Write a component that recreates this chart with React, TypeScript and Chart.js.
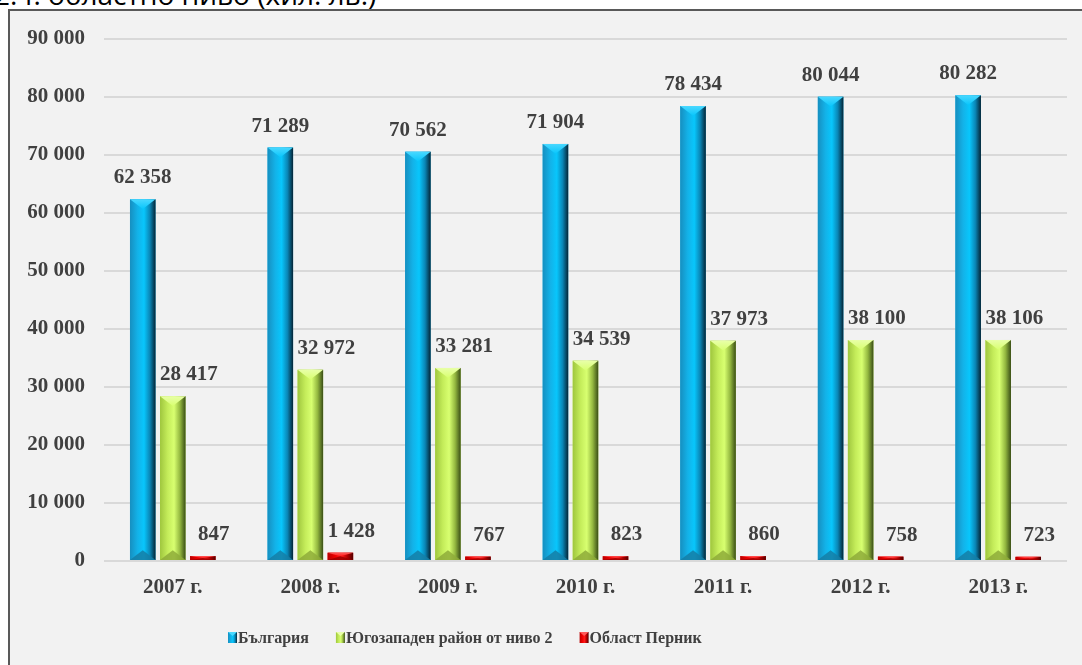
import React, { useEffect, useRef } from "react";
import { Chart, registerables } from "chart.js";

Chart.register(...registerables);

const categories = ["2007 г.", "2008 г.", "2009 г.", "2010 г.", "2011 г.", "2012 г.", "2013 г."];
const bulgaria = [62358, 71289, 70562, 71904, 78434, 80044, 80282];
const southwest = [28417, 32972, 33281, 34539, 37973, 38100, 38106];
const pernik = [847, 1428, 767, 823, 860, 758, 723];
const seriesNames = ["България", "Югозападен район от ниво 2", "Област Перник"];
const yMax = 90000;
const yStep = 10000;
const titleText = "2.4. областно ниво (хил. лв.)";

const FONT = "'Liberation Serif', 'Times New Roman', serif";
const TEXT = "#404040";

type Palette = { base: string; stops: [number, string][]; top: string; bottom: string };
const palettes: Palette[] = [
  {
    base: "#0fb0e6",
    stops: [[0, "#168fc0"], [0.3, "#13b2e8"], [0.55, "#08c6fc"], [0.78, "#0a86b6"], [1, "#052536"]],
    top: "#4ad8ff",
    bottom: "#157ea6",
  },
  {
    base: "#c2ee5c",
    stops: [[0, "#9fc63e"], [0.3, "#c4ec5a"], [0.55, "#d8ff70"], [0.78, "#94b840"], [1, "#3a4e16"]],
    top: "#e8ffa8",
    bottom: "#8eab3a",
  },
  {
    base: "#ee0000",
    stops: [[0, "#b80000"], [0.3, "#ee0000"], [0.55, "#ff1a1a"], [0.78, "#b00000"], [1, "#550000"]],
    top: "#ff5a5a",
    bottom: "#9a0000",
  },
];

const fmt = (n: number) => n.toString().replace(/\B(?=(\d{3})+(?!\d))/g, " ");

const bevelPlugin = {
  id: "bevel",
  afterDatasetsDraw(chart: any) {
    const ctx = chart.ctx as CanvasRenderingContext2D;
    chart.data.datasets.forEach((ds: any, di: number) => {
      const meta = chart.getDatasetMeta(di);
      const pal = palettes[di];
      meta.data.forEach((el: any) => {
        const { x, y, base, width } = el.getProps(["x", "y", "base", "width"], true);
        const left = x - width / 2;
        const right = x + width / 2;
        const h = base - y;
        if (h <= 0) return;
        ctx.save();
        const g = ctx.createLinearGradient(left, 0, right, 0);
        pal.stops.forEach(([o, c]) => g.addColorStop(o, c));
        ctx.fillStyle = g;
        ctx.fillRect(left, y, width, h);
        const d = Math.min(width * 0.38, h / 2);
        const tg = ctx.createLinearGradient(0, y, 0, y + d);
        tg.addColorStop(0, pal.top);
        tg.addColorStop(1, pal.stops[2][1]);
        ctx.fillStyle = tg;
        ctx.beginPath();
        ctx.moveTo(left, y);
        ctx.lineTo(right, y);
        ctx.lineTo(x, y + d);
        ctx.closePath();
        ctx.fill();
        ctx.fillStyle = pal.bottom;
        ctx.globalAlpha = 0.85;
        ctx.beginPath();
        ctx.moveTo(left, base);
        ctx.lineTo(right, base);
        ctx.lineTo(x, base - d);
        ctx.closePath();
        ctx.fill();
        ctx.restore();
      });
    });
  },
};

const labelPlugin = {
  id: "valueLabels",
  afterDatasetsDraw(chart: any) {
    const ctx = chart.ctx as CanvasRenderingContext2D;
    ctx.save();
    ctx.font = `bold 21px ${FONT}`;
    ctx.fillStyle = TEXT;
    ctx.textBaseline = "alphabetic";
    chart.data.datasets.forEach((ds: any, di: number) => {
      const meta = chart.getDatasetMeta(di);
      meta.data.forEach((el: any, i: number) => {
        const { x, y, width } = el.getProps(["x", "y", "width"], true);
        const txt = fmt(ds.data[i]);
        const ty = y - 16;
        if (di === 0) {
          ctx.textAlign = "center";
          ctx.fillText(txt, x, ty);
        } else if (di === 1) {
          ctx.textAlign = "left";
          ctx.fillText(txt, x - width / 2, ty);
        } else {
          ctx.textAlign = "center";
          ctx.fillText(txt, x + 11, ty);
        }
      });
    });
    ctx.restore();
  },
};

const legendPlugin = {
  id: "customLegend",
  afterDraw(chart: any) {
    const ctx = chart.ctx as CanvasRenderingContext2D;
    ctx.save();
    ctx.font = `bold 16px ${FONT}`;
    ctx.textBaseline = "alphabetic";
    ctx.textAlign = "left";
    let cx = 228;
    const baseline = 643;
    seriesNames.forEach((name, i) => {
      const pal = palettes[i];
      const bw = 9;
      const bh = 11;
      const by = baseline - bh;
      const g = ctx.createLinearGradient(cx, 0, cx + bw, 0);
      pal.stops.forEach(([o, c]) => g.addColorStop(o, c));
      ctx.fillStyle = g;
      ctx.fillRect(cx, by, bw, bh);
      ctx.fillStyle = pal.top;
      ctx.beginPath();
      ctx.moveTo(cx, by);
      ctx.lineTo(cx + bw, by);
      ctx.lineTo(cx + bw / 2, by + 4);
      ctx.closePath();
      ctx.fill();
      ctx.fillStyle = TEXT;
      const tx = cx + bw + 1;
      ctx.fillText(name, tx, baseline);
      cx = tx + ctx.measureText(name).width + 27;
    });
    ctx.restore();
  },
};

export default function App() {
  const ref = useRef<HTMLCanvasElement | null>(null);

  useEffect(() => {
    if (!ref.current) return;
    const datasets = [bulgaria, southwest, pernik].map((d, i) => ({
      label: seriesNames[i],
      data: d,
      backgroundColor: palettes[i].base,
      borderWidth: 0,
    }));
    const chart = new Chart(ref.current, {
      type: "bar",
      data: { labels: categories, datasets },
      options: {
        animation: false,
        responsive: false,
        devicePixelRatio: 1,
        layout: { padding: { left: 0, right: 15, top: 39, bottom: 0 } },
        datasets: { bar: { categoryPercentage: 0.655, barPercentage: 0.85 } },
        plugins: {
          legend: { display: false },
          tooltip: { enabled: false },
        },
        scales: {
          x: {
            grid: { display: false, drawTicks: false },
            border: { display: false },
            ticks: {
              color: TEXT,
              font: { family: FONT, size: 21, weight: "bold" },
              padding: 14,
            },
            afterFit: (s: any) => {
              s.height = 104;
            },
          },
          y: {
            min: 0,
            max: yMax,
            grid: { color: "#d9d9d9", lineWidth: 2, drawTicks: false },
            border: { display: false },
            ticks: {
              stepSize: yStep,
              color: TEXT,
              font: { family: FONT, size: 21, weight: "bold" },
              padding: 19,
              callback: (v: any) => fmt(Number(v)),
            },
            afterFit: (s: any) => {
              s.width = 104;
            },
          },
        },
      },
      plugins: [bevelPlugin, labelPlugin, legendPlugin],
    } as any);
    return () => chart.destroy();
  }, []);

  return (
    <div style={{ position: "fixed", left: 0, top: 0, width: 1082, height: 665, overflow: "hidden", background: "#fff" }}>
      <div
        style={{
          position: "absolute",
          left: -6,
          top: -20,
          fontFamily: "'Open Sans', 'Liberation Sans', sans-serif",
          fontSize: 28,
          lineHeight: "28px",
          color: "#000",
          whiteSpace: "nowrap",
        }}
      >
        {titleText}
      </div>
      <div
        style={{
          position: "absolute",
          left: 8,
          top: 9,
          width: 1100,
          height: 700,
          border: "2px solid #595959",
          background: "#f2f2f2",
        }}
      />
      <canvas ref={ref} width={1082} height={665} style={{ position: "absolute", left: 0, top: 0 }} />
    </div>
  );
}
